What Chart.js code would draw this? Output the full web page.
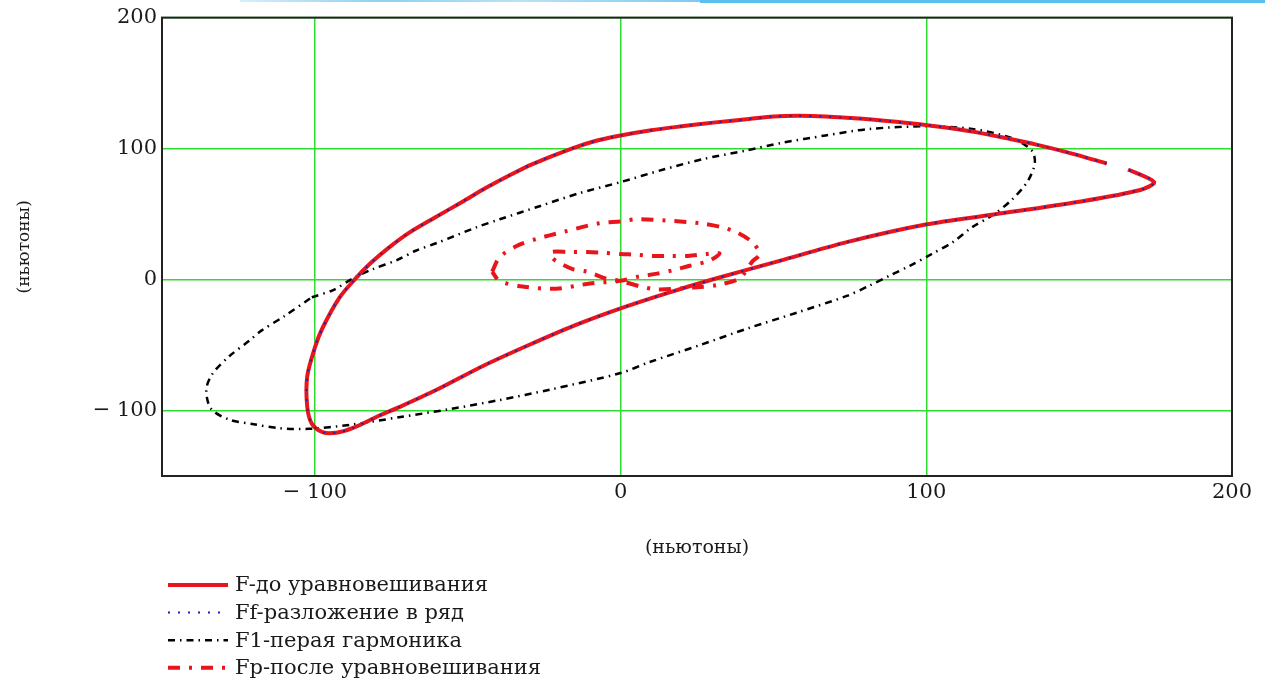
<!DOCTYPE html>
<html>
<head>
<meta charset="utf-8">
<script src="https://cdn.jsdelivr.net/npm/chart.js@4.4.1/dist/chart.umd.min.js"></script>
<style>
html, body { margin: 0; padding: 0; background: #fff; }
#wrap { position: relative; width: 1265px; height: 681px; }
#forceChart { display: block; }
.band { position: absolute; top: 0; height: 3px; }
</style>
</head>
<body>
<div id="wrap">
<canvas id="forceChart" width="1265" height="681"></canvas>
<div class="band" style="left:240px;width:470px;height:2px;background:linear-gradient(90deg,#d6eefb,#8fd0f3 30%,#b8e2f8 60%,#7cc8f0)"></div>
<div class="band" style="left:700px;width:565px;background:#5bbff0"></div>
</div>
<script>
// F - до уравновешивания (Ff совпадает с ней)
const fX = [159, 148, 136, 126, 117.5, 108, 99.8, 83, 67, 58, 50, 42, 31, 20, 10, 0, -8, -16, -29, -36, -44, -52, -61, -69, -76, -82, -87, -92, -97.5, -100, -102.5, -102.5, -101, -97.5, -93, -87.7, -79, -72, -60, -45, -30, -15, 0, 15, 30, 52, 74, 99.8, 122, 150, 170, 174.5, 166];
const fY = [88.6, 96, 103, 108, 112, 115.5, 118, 122, 124.5, 125, 124.5, 122.5, 120, 117, 114, 110, 106, 100, 88, 80, 70, 59, 47, 36, 24, 12, 0, -14, -37, -52, -74, -97, -110, -116.5, -117, -113.5, -104, -97, -84, -66, -50, -35, -22, -10.5, 0, 14.3, 28.6, 42, 49.6, 59.4, 68.4, 74.4, 84];
const ffX = fX;
const ffY = fY;

// F1 - первая гармоника
const f1X = [-101, -94, -87.7, -81, -73, -67, -60, -47, -39.5, -26.5, -13.4, 0, 14, 27, 41, 53, 67, 81.5, 100, 115, 128, 134.5, 135.5, 133, 128, 122, 115, 108.7, 101.8, 94.6, 88, 81.5, 74, 58, 42, 26, 9.5, 0, -23, -39.6, -56, -72, -88.7, -102, -111.6, -120, -128, -134, -135.5, -133.5, -128, -121.4, -117.5, -110, -101];
const f1Y = [-13.5, -8, 0.7, 8, 15, 22, 28, 40, 46, 56, 66, 74.4, 84, 92, 98.5, 104.5, 110, 115, 117, 115, 108, 98.5, 88.7, 74.4, 61, 49.6, 40, 28.6, 19.5, 10.5, 3, -4.5, -12.5, -25, -37, -50, -63, -71.4, -84, -92, -99, -105, -111, -114, -113.5, -110.5, -107, -98.5, -84, -72, -58.6, -46.6, -39, -28, -13.5];

// Fp - после уравновешивания
const fpX = [-42, -39.6, -34, -27.5, -17.7, -7, 0, 5, 15, 26, 33, 38, 43, 45.5, 43, 39, 32, 24, 12, 6, 0, -4.6, -11, -15.7, -20.6, -22.5, -22.5, -16.7, -11, -5.6, 0, 5, 10.5, 16, 22, 28, 32.4, 29, 22.6, 17, 12, 6, 0, -10, -21, -32, -39.6, -42];
const fpY = [6, 17, 25.6, 31, 37, 43, 44.4, 46, 45, 43, 40, 36, 28.6, 19.5, 13.5, 1, -4, -6, -7.5, -5, -1, 0.7, 6, 8, 13.5, 17, 21, 21, 21, 20.5, 19.5, 19, 18, 18, 18, 19.5, 20, 14.3, 10.5, 7, 4.5, 2.3, -1, -3, -7, -5.3, -1, 6];

const xTicks = [-100, 0, 100, 200];
const yTicks = [-100, 0, 100, 200];
const labels = ['F-до уравновешивания', 'Ff-разложение в ряд', 'F1-перая гармоника', 'Fp-после уравновешивания'];

const pts = (xs, ys) => xs.map((x, i) => ({ x: x, y: ys[i] }));
const serif = '"DejaVu Serif", "Liberation Serif", serif';
const green = '#2fdc2f';
const ink = '#1a1a1a';
const tickText = v => v < 0 ? '\u2212 ' + Math.abs(v) : String(v);

const frame = {
    id: 'frame',
    afterDraw(chart) {
        const { ctx, chartArea: a } = chart;
        ctx.save();
        ctx.strokeStyle = '#222';
        ctx.lineWidth = 2;
        ctx.strokeRect(a.left, a.top, a.right - a.left, a.bottom - a.top);

        // легенда столбиком под графиком
        ctx.font = '21px ' + serif;
        ctx.textBaseline = 'middle';
        chart.data.datasets.forEach((ds, i) => {
            const y = a.bottom + 109 + i * 27.6;
            ctx.beginPath();
            ctx.setLineDash(ds.borderDash || []);
            ctx.strokeStyle = ds.borderColor;
            ctx.lineWidth = ds.borderWidth;
            ctx.moveTo(a.left + 6, y);
            ctx.lineTo(a.left + 66, y);
            ctx.stroke();
            ctx.setLineDash([]);
            ctx.fillStyle = ink;
            ctx.fillText(ds.label, a.left + 73, y + 1);
        });
        ctx.restore();
    }
};

const ctx = document.getElementById('forceChart');

const chartData = {
    datasets: [{
        label: labels[0],
        data: pts(fX, fY),
        borderColor: '#e8161c',
        borderWidth: 4,
        order: 3
    }, {
        label: labels[1],
        data: pts(ffX, ffY),
        borderColor: '#2020b0',
        borderWidth: 2,
        borderDash: [2, 8],
        order: 1
    }, {
        label: labels[2],
        data: pts(f1X, f1Y),
        borderColor: '#000',
        borderWidth: 2.5,
        borderDash: [7, 5, 1.5, 5],
        order: 4
    }, {
        label: labels[3],
        data: pts(fpX, fpY),
        borderColor: '#e8161c',
        borderWidth: 4,
        borderDash: [12, 9, 3, 9],
        order: 2
    }]
};

const config = {
    type: 'scatter',
    data: chartData,
    options: {
        responsive: false,
        animation: false,
        showLine: true,
        elements: {
            point: { radius: 0, hoverRadius: 0 },
            line: { tension: 0.3, fill: false }
        },
        layout: {
            padding: { left: 0, top: 15, right: 33, bottom: 115 }
        },
        plugins: {
            legend: { display: false },
            tooltip: { enabled: false }
        },
        scales: {
            x: {
                type: 'linear',
                min: -150,
                max: 200,
                afterBuildTicks: s => { s.ticks = xTicks.map(v => ({ value: v })); },
                afterFit: s => { s.height = 90; },
                grid: { color: green, lineWidth: 1.5, drawTicks: false },
                border: { display: false },
                ticks: { padding: 4, color: ink, font: { family: serif, size: 21 }, callback: tickText },
                title: { display: true, text: '(ньютоны)', color: ink, font: { family: serif, size: 19 }, padding: { top: 0, bottom: 7 } }
            },
            y: {
                type: 'linear',
                min: -150,
                max: 200,
                afterBuildTicks: s => { s.ticks = yTicks.map(v => ({ value: v })); },
                afterFit: s => { s.width = 162; },
                grid: { color: green, lineWidth: 1.5, drawTicks: false },
                border: { display: false },
                ticks: { padding: 5, color: ink, font: { family: serif, size: 21 }, callback: tickText },
                title: { display: true, text: '(ньютоны)', color: ink, font: { family: serif, size: 17 }, padding: { top: 14, bottom: 0 } }
            }
        }
    },
    plugins: [frame]
};

const myChart = new Chart(ctx, config);
</script>
</body>
</html>
